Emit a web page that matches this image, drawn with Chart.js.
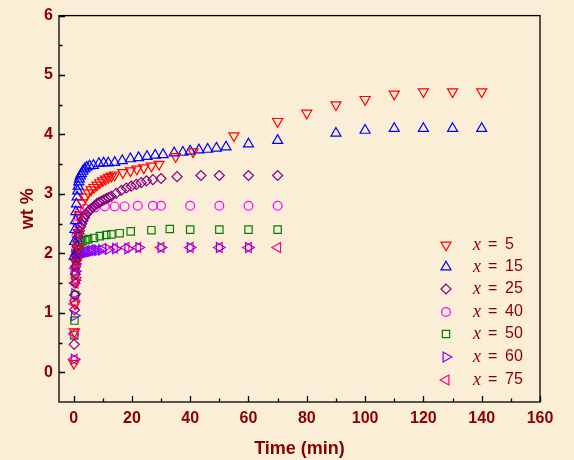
<!DOCTYPE html>
<html>
<head>
<meta charset="utf-8">
<title>wt % vs time</title>
<style>
  html, body { margin: 0; padding: 0; background: #FAEFD6; }
  #wrap { width: 574px; height: 460px; }
</style>
<script src="https://cdn.jsdelivr.net/npm/chart.js@4/dist/chart.umd.min.js"></script>
</head>
<body>
<div id="wrap"><canvas id="chart" width="574" height="460"></canvas></div>
<script>
// ---- data -----------------------------------------------------------------
const seriesLabels = ['5', '15', '25', '40', '50', '60', '75'];

const timeX5 = [0.1, 0.3, 0.5, 0.8, 1.0, 1.3, 1.6, 2.0, 3.0, 4.0, 5.0, 6.0, 7.0, 8.0, 9.0, 10, 11, 12, 13, 14.1,
  16.9, 19.5, 21.7, 24.1, 26.7, 29.3, 35, 41, 55, 70, 80, 90, 100, 110, 120, 130, 140];
const wtX5 = [0.15, 0.68, 1.15, 1.55, 1.85, 2.1, 2.35, 2.65, 2.85, 2.95, 3.02, 3.07, 3.11, 3.15, 3.19, 3.22, 3.25, 3.28, 3.30, 3.32,
  3.36, 3.39, 3.42, 3.44, 3.47, 3.50, 3.63, 3.71, 3.98, 4.22, 4.36, 4.50, 4.59, 4.68, 4.72, 4.72, 4.72];

const timeX15 = [0.2, 0.35, 0.5, 0.65, 0.8, 1.0, 1.2, 1.4, 1.6, 1.8, 2.0, 2.3, 2.7, 3.2, 3.8, 4.5, 5.5, 6.8, 8.7, 10.3,
  11.9, 14.1, 16.7, 19.5, 22.3, 25.2, 28, 30.7, 34.5, 37.5, 40, 43, 46, 49, 52.3, 60, 70, 90, 100, 110, 120, 130, 140];
const wtX15 = [1.95, 2.2, 2.4, 2.55, 2.7, 2.83, 2.95, 3.05, 3.13, 3.2, 3.25, 3.3, 3.34, 3.38, 3.42, 3.45, 3.47, 3.48, 3.51, 3.52,
  3.52, 3.53, 3.56, 3.59, 3.61, 3.63, 3.65, 3.66, 3.69, 3.70, 3.72, 3.74, 3.75, 3.77, 3.79, 3.84, 3.90, 4.02, 4.07, 4.10, 4.10, 4.10, 4.10];

const timeX25 = [0.2, 0.3, 0.4, 0.5, 0.6, 0.7, 0.8, 0.9, 1.0, 1.2, 1.4, 1.6, 1.8, 2.0, 2.4, 2.8, 3.2, 3.7, 4.2, 4.8,
  5.4, 6.0, 6.7, 7.4, 8.1, 8.8, 9.6, 10.4, 11.2, 12.0, 12.9, 14.6, 16.4, 18.1, 19.8, 21.5, 23.2, 25, 27.2, 30,
  35.5, 43.7, 50, 60, 70];
const wtX25 = [0.47, 1.05, 1.3, 1.5, 1.65, 1.78, 1.88, 1.96, 2.03, 2.12, 2.2, 2.27, 2.33, 2.38, 2.45, 2.5, 2.55, 2.6, 2.65, 2.69,
  2.72, 2.75, 2.78, 2.81, 2.84, 2.86, 2.88, 2.9, 2.92, 2.94, 2.96, 3.01, 3.06, 3.10, 3.13, 3.16, 3.19, 3.22, 3.24, 3.26,
  3.29, 3.31, 3.31, 3.31, 3.31];

const timeX40 = [0.2, 0.4, 0.6, 0.8, 1.0, 1.3, 1.7, 2.2, 3.9, 7.3, 10.7, 14.1, 17.5, 22, 27.2, 30, 40, 50, 60, 70];
const wtX40 = [0.65, 1.2, 1.7, 2.05, 2.3, 2.5, 2.62, 2.7, 2.75, 2.77, 2.79, 2.79, 2.79, 2.8, 2.8, 2.8, 2.8, 2.8, 2.8, 2.8];

const timeX50 = [0.2, 0.3, 0.5, 0.7, 0.9, 1.2, 1.6, 2.2, 3.0, 4.0, 5.0, 7.0, 9.0, 11.2, 13, 15.8, 19.6, 26.7, 33, 40, 50, 60, 70];
const wtX50 = [0.62, 0.87, 1.3, 1.7, 1.95, 2.08, 2.14, 2.18, 2.2, 2.22, 2.24, 2.26, 2.29, 2.31, 2.32, 2.34, 2.37, 2.39, 2.41, 2.40, 2.40, 2.40, 2.40];

const timeX60 = [0.2, 0.3, 0.4, 0.5, 0.6, 0.7, 0.8, 1.0, 1.3, 1.7, 2.2, 3.0, 3.9, 4.7, 5.6, 6.4, 7.3, 8.4, 9.6, 12,
  14.4, 18.6, 22.4, 30, 40, 50, 60];
const wtX60 = [0.22, 0.95, 1.32, 1.55, 1.7, 1.82, 1.9, 1.95, 1.97, 1.99, 2.0, 2.0, 2.01, 2.02, 2.03, 2.04, 2.05, 2.05, 2.06, 2.07,
  2.08, 2.08, 2.10, 2.10, 2.10, 2.10, 2.10];

const timeX75 = [0.2, 0.3, 0.4, 0.5, 0.6, 0.8, 1.0, 1.5, 2.5, 4.0, 6.0, 10, 14, 18, 22, 30, 40, 50, 60, 70];
const wtX75 = [0.22, 0.65, 1.15, 1.5, 1.75, 1.9, 1.97, 2.0, 2.02, 2.04, 2.06, 2.08, 2.09, 2.10, 2.10, 2.10, 2.10, 2.10, 2.10, 2.10];

const xTickValues = [0, 20, 40, 60, 80, 100, 120, 140, 160];
const yTickValues = [0, 1, 2, 3, 4, 5, 6];

// ---- styling ---------------------------------------------------------------
const AXIS_RED = '#880000';
const SANS = "'Liberation Sans', Arial, sans-serif";
const SERIF = "'Liberation Serif', 'Times New Roman', serif";

const markerStyles = [
  { color: '#FF0000', pointStyle: 'triangle', rotation: 180, radius: 5.8 },
  { color: '#0000FF', pointStyle: 'triangle', rotation: 0, radius: 5.8 },
  { color: '#800080', pointStyle: 'rectRot', rotation: 0, radius: 5 },
  { color: '#FF00FF', pointStyle: 'circle', rotation: 0, radius: 4.4 },
  { color: '#008000', pointStyle: 'rect', rotation: 0, radius: 5.2 },
  { color: '#8000FF', pointStyle: 'triangle', rotation: 90, radius: 5.8 },
  { color: '#FF0080', pointStyle: 'triangle', rotation: 270, radius: 5.8 }
];

const seriesTimes = [timeX5, timeX15, timeX25, timeX40, timeX50, timeX60, timeX75];
const seriesWt = [wtX5, wtX15, wtX25, wtX40, wtX50, wtX60, wtX75];

const datasets = seriesLabels.map((lab, i) => {
  const s = markerStyles[i];
  return {
    label: 'x = ' + lab,
    data: seriesTimes[i].map((t, k) => ({ x: t, y: seriesWt[i][k] })),
    showLine: false,
    pointStyle: s.pointStyle,
    pointRotation: s.rotation,
    pointRadius: s.radius,
    pointHoverRadius: s.radius,
    pointBorderWidth: 1.2,
    borderColor: s.color,
    backgroundColor: 'rgba(0,0,0,0)'
  };
});

// Cream page background behind everything.
const background = {
  id: 'background',
  beforeDraw(chart) {
    const { ctx, width, height } = chart;
    ctx.save();
    ctx.fillStyle = '#FAEFD6';
    ctx.fillRect(0, 0, width, height);
    ctx.restore();
  }
};

// Boxed frame with inward major/minor ticks on the left and bottom axes.
const frame = {
  id: 'frame',
  afterDatasetsDraw(chart) {
    const { ctx, chartArea: a, scales: { x, y } } = chart;
    ctx.save();
    ctx.strokeStyle = '#000';
    ctx.lineWidth = 1.3;
    ctx.strokeRect(a.left, a.top, a.right - a.left, a.bottom - a.top);
    ctx.beginPath();
    for (let v = 0; v <= 160; v += 10) {
      const px = Math.round(x.getPixelForValue(v)) + 0.5;
      const len = v % 20 === 0 ? 6 : 3.5;
      ctx.moveTo(px, a.bottom);
      ctx.lineTo(px, a.bottom - len);
    }
    for (let v = 0; v <= 12; v += 1) {
      const py = Math.round(y.getPixelForValue(v / 2)) + 0.5;
      const len = v % 2 === 0 ? 6 : 3.5;
      ctx.moveTo(a.left, py);
      ctx.lineTo(a.left + len, py);
    }
    ctx.stroke();
    ctx.restore();
  }
};

// Legend sitting inside the plot, lower right, with an italic "x".
const insideLegend = {
  id: 'insideLegend',
  afterDraw(chart) {
    const { ctx } = chart;
    const rowY = [245, 267, 289, 312, 334, 357, 380];
    ctx.save();
    seriesLabels.forEach((lab, i) => {
      const s = markerStyles[i];
      const yy = rowY[i];
      ctx.strokeStyle = s.color;
      ctx.fillStyle = 'rgba(0,0,0,0)';
      ctx.lineWidth = 1.2;
      Chart.helpers.drawPoint(ctx, { pointStyle: s.pointStyle, rotation: s.rotation, radius: s.radius, borderWidth: 1.2 }, 446, yy);
      ctx.fillStyle = AXIS_RED;
      ctx.textBaseline = 'middle';
      ctx.textAlign = 'left';
      ctx.font = 'italic 18px ' + SERIF;
      ctx.fillText('x', 473, yy);
      ctx.font = '16px ' + SANS;
      ctx.fillText('=', 488, yy);
      ctx.fillText(lab, 505, yy);
    });
    ctx.restore();
  }
};

new Chart(document.getElementById('chart'), {
  type: 'scatter',
  data: { datasets },
  options: {
    responsive: false,
    animation: false,
    events: [],
    layout: { padding: { left: 0, right: 34, top: 15, bottom: 0 } },
    plugins: { legend: { display: false }, tooltip: { enabled: false } },
    scales: {
      x: {
        type: 'linear',
        min: -5,
        max: 160,
        afterBuildTicks: (scale) => { scale.ticks = xTickValues.map((v) => ({ value: v })); },
        afterFit: (scale) => { scale.height = 58; },
        grid: { display: false, drawTicks: false, tickLength: 0 },
        border: { display: false },
        ticks: { color: AXIS_RED, padding: 7, font: { family: SANS, size: 16, weight: 'bold' }, maxRotation: 0 },
        title: { display: true, text: 'Time (min)', color: AXIS_RED, padding: { top: 0, bottom: 0 },
                 font: { family: SANS, size: 18, weight: 'bold' } }
      },
      y: {
        type: 'linear',
        min: -0.5,
        max: 6,
        afterBuildTicks: (scale) => { scale.ticks = yTickValues.map((v) => ({ value: v })); },
        afterFit: (scale) => { scale.width = 59; },
        grid: { display: false, drawTicks: false, tickLength: 0 },
        border: { display: false },
        ticks: { color: AXIS_RED, padding: 6, font: { family: SANS, size: 16, weight: 'bold' } },
        title: { display: true, text: 'wt %', color: AXIS_RED, padding: { top: 17, bottom: 4 },
                 font: { family: SANS, size: 18, weight: 'bold' } }
      }
    }
  },
  plugins: [background, frame, insideLegend]
});
</script>
</body>
</html>
